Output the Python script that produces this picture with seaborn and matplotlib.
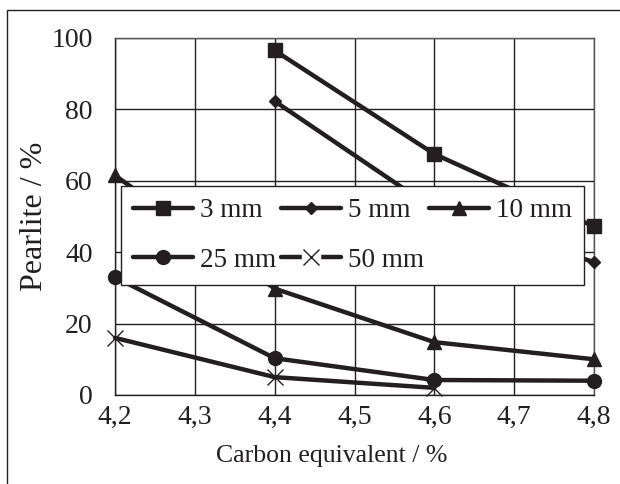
import matplotlib
matplotlib.use("Agg")
import matplotlib.pyplot as plt
import seaborn as sns
import pandas as pd
from matplotlib.patches import Rectangle
from matplotlib.lines import Line2D
from matplotlib.legend_handler import HandlerTuple

# Data
carbon_eq = [4.2, 4.4, 4.6, 4.8]
series_names = ["3 mm", "5 mm", "10 mm", "25 mm", "50 mm"]
pearlite_3mm = [None, 96.5, 67.5, 47.2]
pearlite_5mm = [None, 82.3, 52.0, 37.2]
pearlite_10mm = [61.5, 29.8, 14.8, 10.0]
pearlite_25mm = [33.0, 10.3, 4.2, 4.0]
pearlite_50mm = [16.0, 5.0, 2.0, None]
x_ticks = [4.2, 4.3, 4.4, 4.5, 4.6, 4.7, 4.8]
x_tick_labels = ["4,2", "4,3", "4,4", "4,5", "4,6", "4,7", "4,8"]
y_ticks = [0, 20, 40, 60, 80, 100]

rows = []
for name, vals in zip(series_names, [pearlite_3mm, pearlite_5mm, pearlite_10mm, pearlite_25mm, pearlite_50mm]):
    for x, v in zip(carbon_eq, vals):
        if v is not None:
            rows.append({"ce": x, "pearlite": v, "size": name})
df = pd.DataFrame(rows)

sns.set_theme(style="white")
plt.rcParams["font.family"] = ["Liberation Serif", "DejaVu Serif"]

ink = "#231f20"
fig = plt.figure(figsize=(6.2, 4.84), dpi=100)
ax = fig.add_axes([0.1855, 0.1839, 0.7726, 0.7376])

markers = {"3 mm": "s", "5 mm": "D", "10 mm": "^", "25 mm": "o", "50 mm": "x"}
msizes = {"3 mm": 10, "5 mm": 6, "10 mm": 10, "25 mm": 10, "50 mm": 11}
for name in series_names:
    sub = df[df["size"] == name]
    sns.lineplot(data=sub, x="ce", y="pearlite", color=ink, marker=markers[name],
                 markersize=msizes[name], markeredgewidth=1.0, markeredgecolor=ink,
                 markerfacecolor=ink, linewidth=3.2, label=name, ax=ax, zorder=3)

for line in ax.get_lines():
    line.set_clip_on(False)

ax.set_xlim(4.2, 4.8)
ax.set_ylim(0, 100)
ax.set_xticks(x_ticks)
ax.set_xticklabels(x_tick_labels)
ax.set_yticks(y_ticks)
ax.tick_params(axis="both", labelsize=20, colors=ink, length=0)
ax.tick_params(axis="y", pad=16)
ax.tick_params(axis="x", pad=7)
ax.grid(True, color=ink, linewidth=1.0)
ax.set_axisbelow(True)
for s in ax.spines.values():
    s.set_color("#555555")
    s.set_linewidth(1.0)
ax.spines["left"].set_color(ink)
ax.spines["bottom"].set_color(ink)

ax.set_xlabel("Carbon equivalent / %", fontsize=18.5, color=ink)
ax.xaxis.set_label_coords(0.453, -0.14)
ax.set_ylabel("Pearlite / %", fontsize=23, color=ink)
ax.yaxis.set_label_coords(-0.138, 0.5)

handles, labels = ax.get_legend_handles_labels()
hmap = dict(zip(labels, handles))
# 50 mm handle with a gap around the cross
hmap["50 mm"] = (Line2D([], [], color=ink, linewidth=3.2),
                 Line2D([], [], linestyle="none", marker="s", markersize=13,
                        markerfacecolor="white", markeredgecolor="white"),
                 Line2D([], [], linestyle="none", marker="x", markersize=11,
                        markeredgecolor=ink, markeredgewidth=1.0))
order = ["3 mm", "25 mm", "5 mm", "50 mm", "10 mm"]
leg = ax.legend([hmap[k] for k in order], order, loc="lower left",
                bbox_to_anchor=(0.0125, 0.308, 0.9665, 0.277), mode="expand",
                ncol=3, fontsize=19.5, frameon=True, fancybox=False,
                edgecolor=ink, framealpha=1.0, handlelength=2.2,
                handletextpad=0.25, borderpad=0.45, labelspacing=0.9,
                columnspacing=1.0, borderaxespad=0,
                handler_map={tuple: HandlerTuple(ndivide=1, pad=0)})
leg.get_frame().set_linewidth(1.0)
leg.set_zorder(10)
for t in leg.get_texts():
    t.set_color(ink)

# outer frame
fig.patches.append(Rectangle((7 / 620, -0.1), 1.2, 1 - 10 / 484 + 0.1,
                             transform=fig.transFigure, fill=False,
                             edgecolor=ink, linewidth=1.0))

fig.savefig("out.png", dpi=100)
